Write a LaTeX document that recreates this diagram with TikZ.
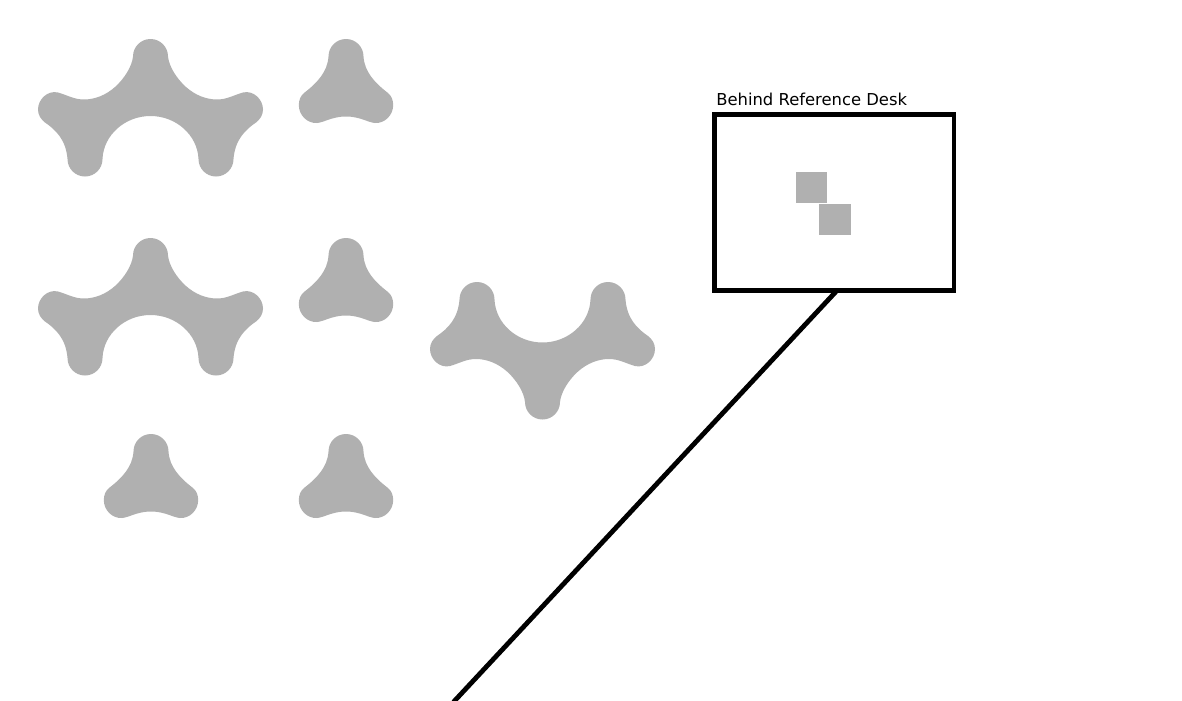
\documentclass[tikz,border=0pt]{standalone}
\usepackage{fontspec}
\setmainfont{DejaVu Sans}
\definecolor{shapegray}{HTML}{B0B0B0}
\tikzset{
  x=0.75pt,y=-0.75pt,
  trefoil/.pic={\fill[shapegray] (328.5,56.5)
    .. controls (328.5,46.8) and (336.3,39) .. (346,39)
    .. controls (355.7,39) and (363.5,46.8) .. (363.5,56.5)
    .. controls (364.5,72) and (375,83) .. (388,93)
    .. controls (391.2,95.5) and (393.2,100) .. (393.2,105)
    .. controls (393.2,115) and (385,123.5) .. (375,123)
    .. controls (368,122.5) and (360,116.5) .. (346,116.5)
    .. controls (332,116.5) and (324,122.5) .. (317,123)
    .. controls (307,123.5) and (298.8,115) .. (298.8,105)
    .. controls (298.8,100) and (300.8,95.5) .. (304,93)
    .. controls (317,83) and (327.5,72) .. (328.5,56.5) -- cycle;},
  archshape/.pic={\fill[shapegray] (133,56.5)
    .. controls (133,46.8) and (140.8,39) .. (150.5,39)
    .. controls (160.2,39) and (168,46.8) .. (168,56.5)
    .. controls (169,66) and (176,78) .. (186,87)
    .. controls (195,95) and (206,99.5) .. (217,99.5)
    .. controls (227,99.5) and (234,95) .. (243,92.5)
    .. controls (253,90) and (263,99) .. (263,109.5)
    .. controls (263,115) and (260,119.5) .. (256,122.5)
    .. controls (245,130) and (235,140) .. (233.5,159)
    .. controls (233.5,168.7) and (225.7,176.5) .. (216,176.5)
    .. controls (206.3,176.5) and (198.5,168.7) .. (198.5,159)
    .. controls (197.5,135) and (176,116) .. (150.5,116)
    .. controls (125,116) and (103.5,135) .. (102.5,159)
    .. controls (102.5,168.7) and (94.7,176.5) .. (85,176.5)
    .. controls (75.3,176.5) and (67.5,168.7) .. (67.5,159)
    .. controls (66,140) and (56,130) .. (45,122.5)
    .. controls (41,119.5) and (38,115) .. (38,109.5)
    .. controls (38,99) and (48,90) .. (58,92.5)
    .. controls (67,95) and (74,99.5) .. (84,99.5)
    .. controls (95,99.5) and (106,95) .. (115,87)
    .. controls (125,78) and (132,66) .. (133,56.5) -- cycle;},
  deskframe/.style={draw=black,line width=3.6pt,minimum width=179.6pt,minimum height=132pt,inner sep=0pt,outer sep=0pt},
  tile/.style={fill=shapegray,inner sep=0pt,outer sep=0pt,minimum size=23.4pt},
  link/.style={draw=black,line width=3.6pt},
  caption/.style={anchor=base west,inner sep=0pt,text=black,font=\fontsize{12.3pt}{14pt}\selectfont}
}
\begin{document}
\begin{tikzpicture}
\clip (0,0) rectangle (1182,700);
\fill[white] (0,0) rectangle (1182,700);
\pic at (0,0) {archshape};
\pic at (0,199) {archshape};
\pic[yscale=-1] at (392,458.5) {archshape};
\pic at (0,0) {trefoil};
\pic at (0,199) {trefoil};
\pic at (0,395) {trefoil};
\pic at (-195,395) {trefoil};
\node[deskframe] (desk) at (834.25,202.7) {};
\node[tile] (tileA) at (811.4,187.8) {};
\node[tile] (tileB) at (835,219.3) {};
\node[caption] (label) at (716,105) {Behind Reference Desk};
\coordinate (deskfoot) at (836.5,291);
\coordinate (lineend) at (453.5,702);
\draw[link] (deskfoot) -- (lineend);
\end{tikzpicture}
\end{document}
